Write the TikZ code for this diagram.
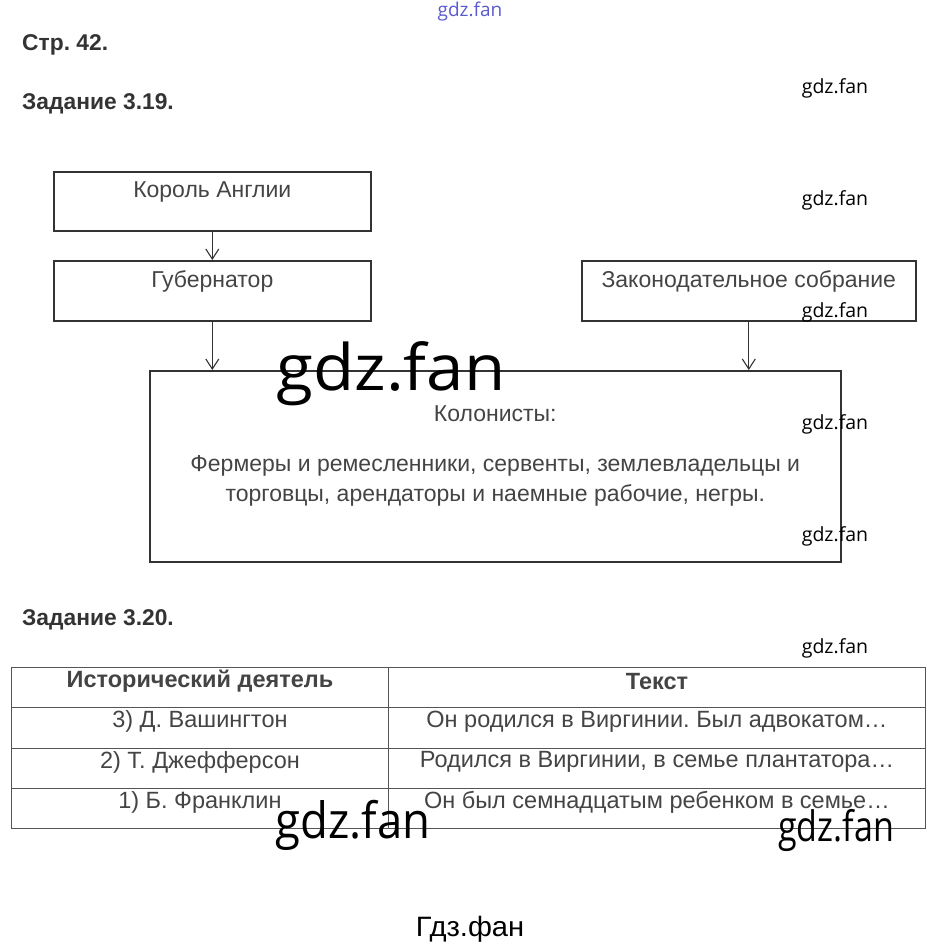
\documentclass[tikz,border=0pt]{standalone}
\usepackage{fontspec}
\setmainfont{Liberation Sans}
\newfontfamily\wmfont{Open Sans}
\usetikzlibrary{arrows.meta,positioning}
\frenchspacing

\definecolor{boxgray}{HTML}{333333}
\definecolor{textgray}{HTML}{444444}
\definecolor{headgray}{HTML}{333333}
\definecolor{linegray}{HTML}{555555}
\definecolor{wmblue}{HTML}{5A5AD0}

\tikzset{
  box/.style={draw=boxgray, line width=1.6pt, inner sep=0pt, anchor=north west},
  boxtext/.style={text=textgray, font=\fontsize{23}{30}\selectfont, align=center},
  head/.style={text=headgray, font=\bfseries\fontsize{22.8}{26}\selectfont, anchor=west, inner sep=0pt},
  link/.style={draw=boxgray, line width=1.1pt, -{Straight Barb[length=10pt,width=13pt]}},
  cell/.style={draw=linegray, line width=0.9pt, inner sep=0pt, anchor=north west, minimum height=40.25pt},
  celltext/.style={text=textgray, font=\fontsize{23.5}{26}\selectfont},
  wm/.style={text=black, font=\wmfont\fontsize{19.5}{22}\selectfont},
}

\begin{document}
\begin{tikzpicture}[x=1pt,y=-1pt]
\useasboundingbox (0,0) rectangle (938,946);

% headings
\node[head] (page) at (22,45) {Стр. 42.};
\node[head] (task1) at (22,104) {Задание 3.19.};
\node[head] (task2) at (22,620) {Задание 3.20.};

% scheme
\node[box, minimum width=317pt, minimum height=59pt] (king) at (53,171) {};
\node[box, minimum width=317pt, minimum height=60pt] (gov) at (53,260) {};
\node[box, minimum width=334pt, minimum height=60pt] (leg) at (581,260) {};
\node[box, minimum width=691pt, minimum height=191pt] (col) at (149,370) {};
\node[boxtext] (kingtxt) at ([yshift=-21pt]king.north) {Король Англии};
\node[boxtext] (govtxt) at ([yshift=-21pt]gov.north) {Губернатор};
\node[boxtext] (legtxt) at ([yshift=-21pt]leg.north) {Законодательное собрание};
\node[boxtext] (coltitle) at ([yshift=-44pt]col.north) {Колонисты:};
\node[boxtext] (coltxt) at ([yshift=-111pt]col.north) {Фермеры и ремесленники, сервенты, землевладельцы и\\торговцы, арендаторы и наемные рабочие, негры.};
\draw[link] (king.south) -- (gov.north);
\draw[link] (gov.south) -- (gov.south |- col.north);
\draw[link] (leg.south) -- (leg.south |- col.north);

% table
\foreach \who/\what [count=\i] in {
  {\bfseries Исторический деятель}/{\bfseries Текст},
  {3) Д. Вашингтон}/{Он родился в Виргинии. Был адвокатом…},
  {2) Т. Джефферсон}/{Родился в Виргинии, в семье плантатора…},
  {1) Б. Франклин}/{Он был семнадцатым ребенком в семье…}} {
  \node[cell, minimum width=377pt] (who\i) at (11,{667+40.25*(\i-1)}) {};
  \node[cell, minimum width=537pt] (what\i) at (388,{667+40.25*(\i-1)}) {};
  \node[celltext] at ([yshift=-14.5pt]who\i.north) {\who};
  \node[celltext] at ([yshift=-14.5pt]what\i.north) {\what};
}

% watermarks
\node[text=wmblue, font=\wmfont\fontsize{19}{22}\selectfont] (wmtop) at (470,12) {gdz.fan};
\foreach \y in {88,200,312,424,536,648}
  \node[wm] at (835,\y) {gdz.fan};
\node[wm, anchor=base, font=\wmfont\fontsize{64}{70}\selectfont] (wmbig) at (391,390) {\scalebox{1.05}[1]{gdz.fan}};
\node[wm, anchor=base, font=\wmfont\fontsize{50}{60}\selectfont] (wmleft) at (353,838) {\scalebox{0.91}[1]{gdz.fan}};
\node[wm, anchor=base, font=\wmfont\fontsize{42}{48}\selectfont] (wmright) at (836,841) {\scalebox{0.81}[1]{gdz.fan}};
\node[text=black, anchor=base, font=\fontsize{28}{32}\selectfont] (wmru) at (470,936) {\scalebox{1.04}[1]{Гдз.фан}};
\end{tikzpicture}
\end{document}
